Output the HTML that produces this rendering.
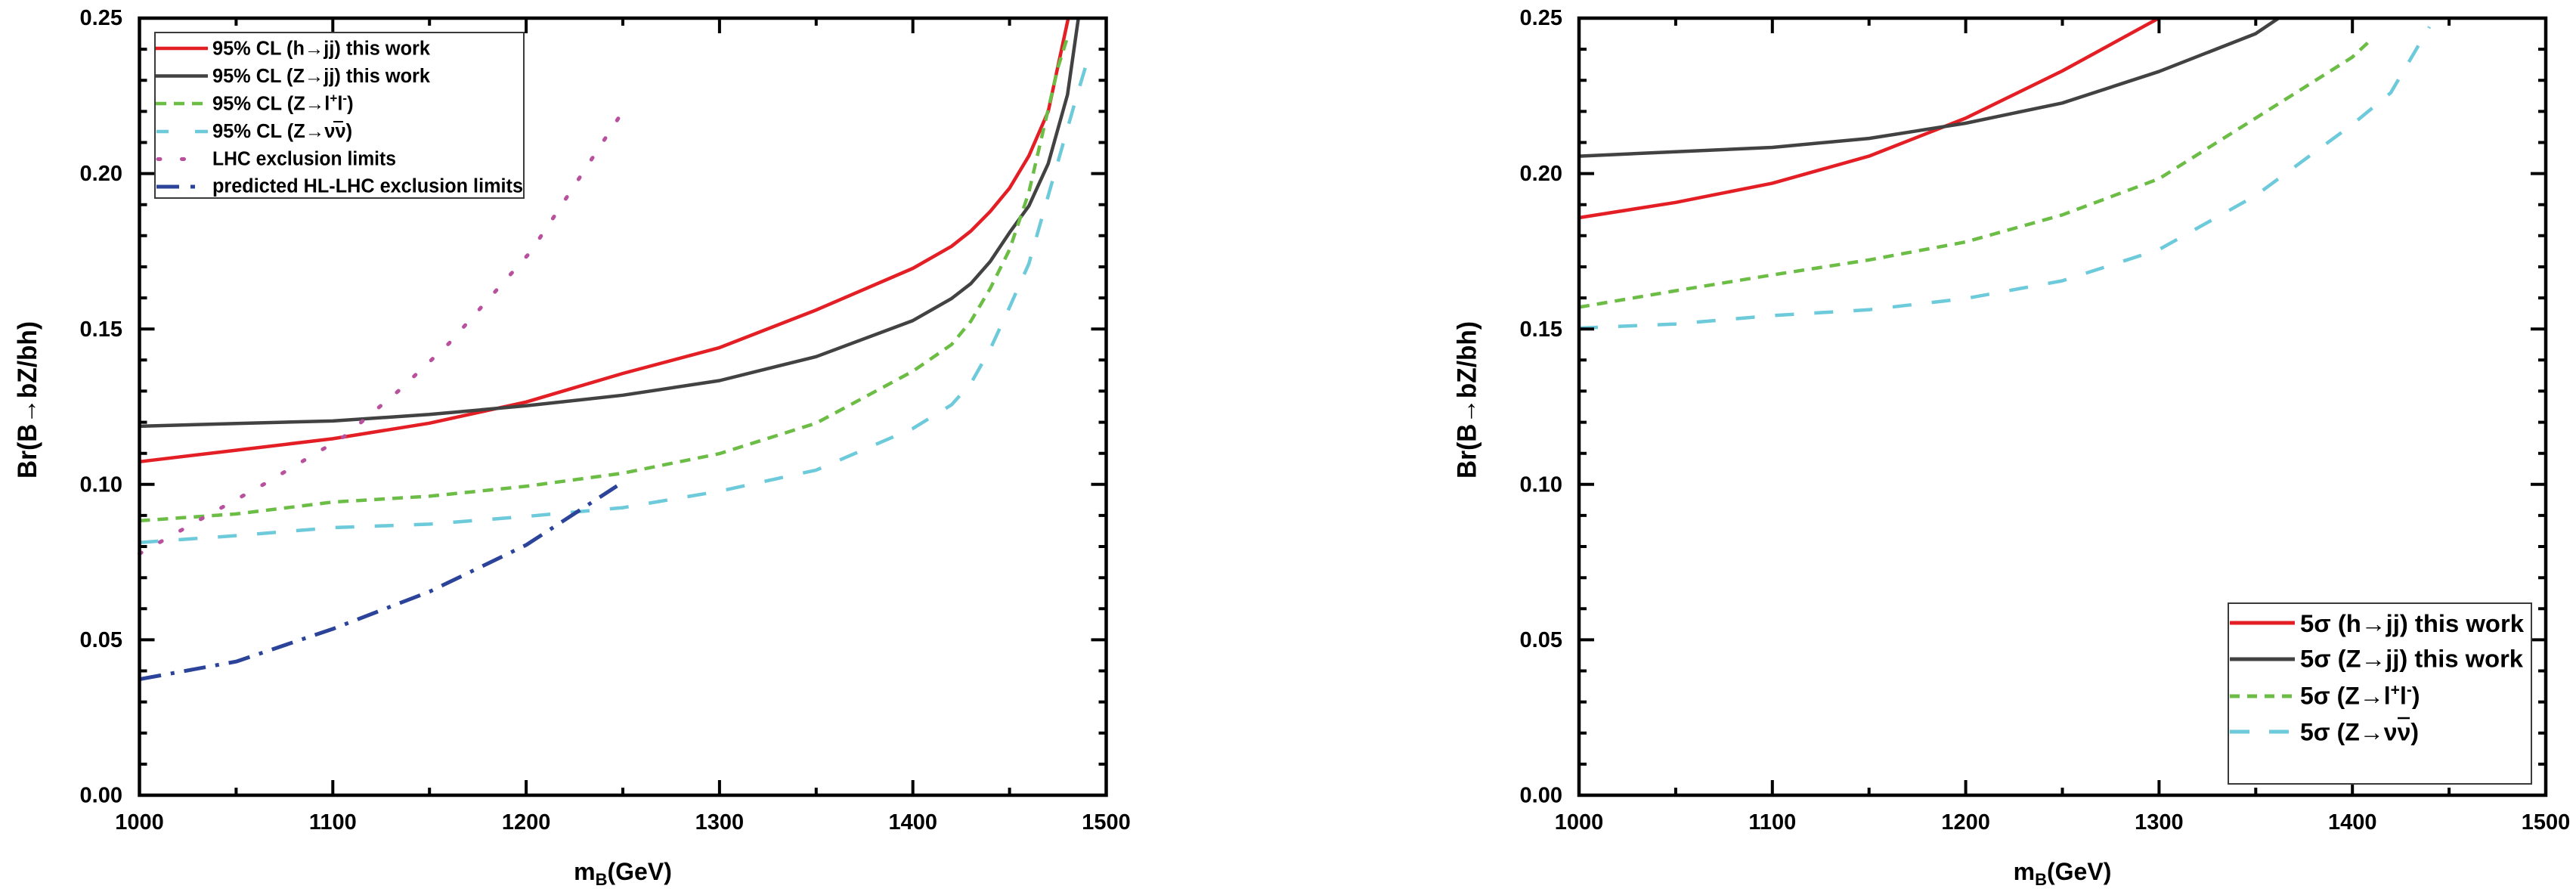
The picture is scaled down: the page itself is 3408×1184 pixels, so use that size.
<!DOCTYPE html>
<html>
<head>
<meta charset="utf-8">
<style>
html,body{margin:0;padding:0;background:#ffffff;}
svg{display:block;}
</style>
</head>
<body>
<svg width="3408" height="1184" viewBox="0 0 3408 1184" xmlns="http://www.w3.org/2000/svg" font-family="'Liberation Sans', 'DejaVu Sans', sans-serif" font-weight="bold">
<rect x="0" y="0" width="3408" height="1184" fill="#ffffff"/>
<defs>
<path id="ytl" d="M0 1010.9h10M0 969.8h10M0 928.6h10M0 887.5h10M0 846.4h20M0 805.3h10M0 764.2h10M0 723h10M0 681.9h10M0 640.8h20M0 599.7h10M0 558.6h10M0 517.4h10M0 476.3h10M0 435.2h20M0 394.1h10M0 353h10M0 311.8h10M0 270.7h10M0 229.6h20M0 188.5h10M0 147.4h10M0 106.2h10M0 65.1h10" stroke="#000" stroke-width="4" fill="none"/>
<path id="ytr" d="M0 1010.9h-10M0 969.8h-10M0 928.6h-10M0 887.5h-10M0 846.4h-20M0 805.3h-10M0 764.2h-10M0 723h-10M0 681.9h-10M0 640.8h-20M0 599.7h-10M0 558.6h-10M0 517.4h-10M0 476.3h-10M0 435.2h-20M0 394.1h-10M0 353h-10M0 311.8h-10M0 270.7h-10M0 229.6h-20M0 188.5h-10M0 147.4h-10M0 106.2h-10M0 65.1h-10" stroke="#000" stroke-width="4" fill="none"/>
<path id="xt" d="M127.9 1052v-10M255.8 1052v-20M383.7 1052v-10M511.6 1052v-20M639.5 1052v-10M767.4 1052v-20M895.3 1052v-10M1023.2 1052v-20M1151.1 1052v-10M127.9 24v10M255.8 24v20M383.7 24v10M511.6 24v20M639.5 24v10M767.4 24v20M895.3 24v10M1023.2 24v20M1151.1 24v10" stroke="#000" stroke-width="4" fill="none"/>
</defs>

<!-- ================= LEFT PLOT ================= -->
<g fill="none" stroke-linejoin="round">
<!-- red -->
<polyline stroke="#e31e24" stroke-width="4.5" points="184.5,610.8 312.4,595.6 440.3,580.4 568.2,559.8 696.1,531.8 824,494 951.9,459.9 1079.8,410.1 1207.7,355 1258.9,325.8 1284.4,305.7 1310,279.8 1335.6,248.9 1361.2,206.2 1386.8,147.4 1413.3,24"/>
<!-- gray -->
<polyline stroke="#424242" stroke-width="4.5" points="184.5,563.9 312.4,560.2 440.3,556.9 568.2,548.3 696.1,536.8 824,522.8 951.9,503.5 1079.8,471.8 1207.7,424.1 1258.9,394.9 1284.4,375.2 1310,346 1335.6,307.7 1361.2,272.4 1386.8,216.4 1412.3,125.2 1426.7,24"/>
<!-- green short dash -->
<polyline stroke="#6cbd45" stroke-width="4.5" stroke-dasharray="14 10" points="184.5,688.9 312.4,679.9 440.3,664.2 568.2,656.4 696.1,643.3 824,626 951.9,600.1 1079.8,559.8 1207.7,491.1 1258.9,455.8 1284.4,424.9 1310,381.7 1335.6,330.3 1361.2,254.3 1376.5,188.5 1389.3,133.8 1399.6,89.4 1411.1,52.8"/>
<!-- cyan long dash -->
<polyline stroke="#6ccadb" stroke-width="4.5" stroke-dasharray="25 27" points="184.5,717.7 312.4,708.6 440.3,698 568.2,693.4 696.1,683.2 824,671.6 951.9,649.8 1079.8,621.9 1207.7,566.8 1258.9,535.5 1284.4,507.2 1310,461.9 1335.6,406.4 1361.2,348.8 1386.8,258.8 1407.2,187.7 1422.6,133.8 1436.6,86.9"/>
<!-- magenta dotted -->
<polyline stroke="#b8509e" stroke-width="5" stroke-linecap="round" stroke-dasharray="3 28" points="184.5,732.5 266.4,686.4 350.8,639.6 455.6,577.3 527.3,517 593.8,454.5 657.7,382.9 701.2,334 737,280.6 824,147.4"/>
<!-- navy dash-dot -->
<polyline stroke="#2b449a" stroke-width="5" stroke-dasharray="29 13 5 13" points="184.5,898.6 312.4,875.2 440.3,832 568.2,782.7 696.1,721 816.3,642.9"/>
</g>

<!-- left frame and ticks -->
<rect x="184.5" y="24" width="1279" height="1028" fill="none" stroke="#000" stroke-width="4.5"/>
<use href="#ytl" x="184.5" y="0"/>
<use href="#ytr" x="1463.5" y="0"/>
<use href="#xt" x="184.5" y="0"/>

<!-- left tick labels -->
<g font-size="29" fill="#000" text-anchor="end">
<text x="162" y="1061.5">0.00</text>
<text x="162" y="856">0.05</text>
<text x="162" y="650.5">0.10</text>
<text x="162" y="445">0.15</text>
<text x="162" y="239">0.20</text>
<text x="162" y="33">0.25</text>
</g>
<g font-size="29" fill="#000" text-anchor="middle">
<text x="184.5" y="1097">1000</text>
<text x="440.3" y="1097">1100</text>
<text x="696.1" y="1097">1200</text>
<text x="951.9" y="1097">1300</text>
<text x="1207.7" y="1097">1400</text>
<text x="1463.5" y="1097">1500</text>
</g>

<!-- left axis titles -->
<text transform="translate(48,529) rotate(-90)" text-anchor="middle" font-size="35" textLength="208" lengthAdjust="spacingAndGlyphs" fill="#000">Br(B→bZ/bh)</text>
<text x="824" y="1164" text-anchor="middle" font-size="32" fill="#000">m<tspan font-size="22" dy="7">B</tspan><tspan dy="-7">(GeV)</tspan></text>

<!-- left legend -->
<rect x="205" y="43" width="488" height="219" fill="#ffffff" stroke="#3a3a3a" stroke-width="2"/>
<g fill="none">
<line x1="206" y1="64" x2="275" y2="64" stroke="#e31e24" stroke-width="4.5"/>
<line x1="206" y1="100.5" x2="275" y2="100.5" stroke="#424242" stroke-width="4.5"/>
<line x1="206" y1="137" x2="268" y2="137" stroke="#6cbd45" stroke-width="4.5" stroke-dasharray="14 10"/>
<line x1="207" y1="174" x2="223" y2="174" stroke="#6ccadb" stroke-width="4.5"/>
<line x1="258" y1="174" x2="275" y2="174" stroke="#6ccadb" stroke-width="4.5"/>
<line x1="209" y1="210.5" x2="272" y2="210.5" stroke="#b8509e" stroke-width="5" stroke-linecap="round" stroke-dasharray="3 28.5"/>
<line x1="207" y1="247" x2="237" y2="247" stroke="#2b449a" stroke-width="5"/>
<line x1="252" y1="247" x2="258" y2="247" stroke="#2b449a" stroke-width="5"/>
</g>
<g font-size="25.5" fill="#000">
<text x="281" y="72.5" textLength="288" lengthAdjust="spacingAndGlyphs">95% CL (h→jj) this work</text>
<text x="281" y="109" textLength="288" lengthAdjust="spacingAndGlyphs">95% CL (Z→jj) this work</text>
<text x="281" y="145.5">95% CL (Z→l<tspan font-size="17" dy="-10">+</tspan><tspan dy="10">l</tspan><tspan font-size="17" dy="-10">-</tspan><tspan dy="10">)</tspan></text>
<text x="281" y="182">95% CL (Z→νν)</text>
<text x="281" y="218.5" textLength="243" lengthAdjust="spacingAndGlyphs">LHC exclusion limits</text>
<text x="281" y="254.5" textLength="411" lengthAdjust="spacingAndGlyphs">predicted HL-LHC exclusion limits</text>
</g>
<line x1="441" y1="161" x2="454" y2="161" stroke="#000" stroke-width="2"/>

<!-- ================= RIGHT PLOT ================= -->
<g fill="none" stroke-linejoin="round">
<polyline stroke="#e31e24" stroke-width="4.5" points="2089,288 2216.9,267.8 2344.7,242.4 2472.6,206.6 2600.4,156.4 2728.3,93.9 2856.1,24"/>
<polyline stroke="#424242" stroke-width="4.5" points="2089,206.6 2216.9,200.8 2344.7,195 2472.6,183.1 2600.4,163 2728.3,136.3 2856.1,94.7 2984,44.6 3014.6,24"/>
<polyline stroke="#6cbd45" stroke-width="4.5" stroke-dasharray="14 10" points="2089,406.4 2216.9,384.6 2344.7,363.7 2472.6,343.9 2600.4,320.1 2728.3,284.3 2856.1,236.6 2984,156.4 3111.8,75.8 3133.5,55.7"/>
<polyline stroke="#6ccadb" stroke-width="4.5" stroke-dasharray="25 27" points="2089,434 2216.9,428.6 2344.7,417.5 2472.6,409.7 2600.4,394.9 2728.3,371.5 2856.1,330.3 2984,258.8 3111.8,165 3162.9,122.7 3214.1,35.5"/>
</g>

<rect x="2089" y="24" width="1279" height="1028" fill="none" stroke="#000" stroke-width="4.5"/>
<use href="#ytl" x="2089" y="0"/>
<use href="#ytr" x="3368" y="0"/>
<use href="#xt" x="2089" y="0"/>

<g font-size="29" fill="#000" text-anchor="end">
<text x="2067" y="1061.5">0.00</text>
<text x="2067" y="856">0.05</text>
<text x="2067" y="650.5">0.10</text>
<text x="2067" y="445">0.15</text>
<text x="2067" y="239">0.20</text>
<text x="2067" y="33">0.25</text>
</g>
<g font-size="29" fill="#000" text-anchor="middle">
<text x="2089" y="1097">1000</text>
<text x="2344.8" y="1097">1100</text>
<text x="2600.6" y="1097">1200</text>
<text x="2856.4" y="1097">1300</text>
<text x="3112.2" y="1097">1400</text>
<text x="3368" y="1097">1500</text>
</g>

<text transform="translate(1952.5,529) rotate(-90)" text-anchor="middle" font-size="35" textLength="208" lengthAdjust="spacingAndGlyphs" fill="#000">Br(B→bZ/bh)</text>
<text x="2728.5" y="1164" text-anchor="middle" font-size="32" fill="#000">m<tspan font-size="22" dy="7">B</tspan><tspan dy="-7">(GeV)</tspan></text>

<!-- right legend -->
<rect x="2948" y="798" width="401" height="239" fill="#ffffff" stroke="#3a3a3a" stroke-width="2"/>
<g fill="none">
<line x1="2950" y1="824" x2="3036" y2="824" stroke="#e31e24" stroke-width="5"/>
<line x1="2950" y1="872" x2="3036" y2="872" stroke="#424242" stroke-width="5"/>
<line x1="2950" y1="921" x2="3033" y2="921" stroke="#6cbd45" stroke-width="5" stroke-dasharray="13 10"/>
<line x1="2950" y1="968" x2="2976" y2="968" stroke="#6ccadb" stroke-width="5"/>
<line x1="3002" y1="968" x2="3028" y2="968" stroke="#6ccadb" stroke-width="5"/>
</g>
<g font-size="32" fill="#000">
<text x="3043" y="836" textLength="296" lengthAdjust="spacingAndGlyphs">5σ (h→jj) this work</text>
<text x="3043" y="882.7" textLength="295" lengthAdjust="spacingAndGlyphs">5σ (Z→jj) this work</text>
<text x="3043" y="931.7">5σ (Z→l<tspan font-size="21" dy="-12">+</tspan><tspan dy="12">l</tspan><tspan font-size="21" dy="-12">-</tspan><tspan dy="12">)</tspan></text>
<text x="3043" y="979.3">5σ (Z→νν)</text>
</g>
<line x1="3172" y1="950" x2="3188" y2="950" stroke="#000" stroke-width="2.5"/>
</svg>
</body>
</html>
